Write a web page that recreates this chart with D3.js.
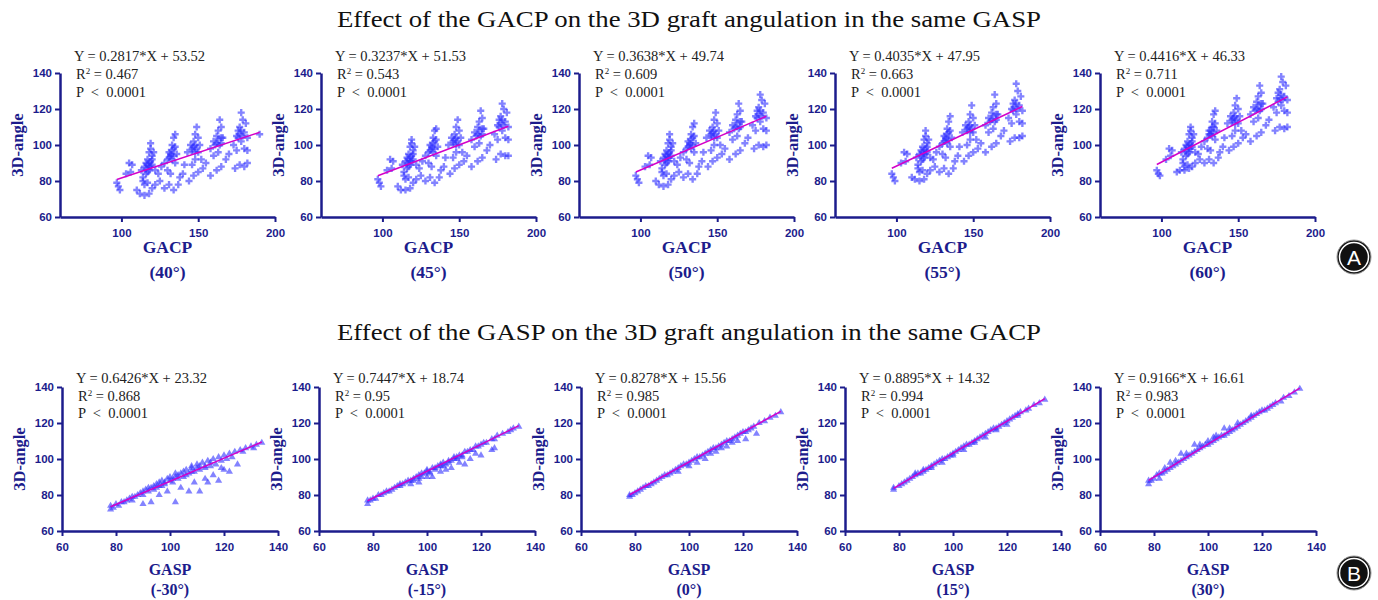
<!DOCTYPE html>
<html>
<head>
<meta charset="utf-8">
<script src="https://cdn.jsdelivr.net/npm/d3@7"></script>
<style>
  body { margin: 0; background: #fff; }
  svg { display: block; }
  .tick text { font-family: "Liberation Sans", Arial, sans-serif; font-weight: bold; font-size: 11.5px; fill: #1c1c8c; }
  .axis path, .axis line { stroke: #1c1c8c; }
  .eq { font-family: "Liberation Serif", "Times New Roman", serif; font-size: 14.5px; fill: #222; white-space: pre; }
  .lab { font-family: "Liberation Serif", "Times New Roman", serif; font-weight: bold; fill: #1c1c8c; }
  .ylab { font-family: "Liberation Serif", "Times New Roman", serif; font-weight: bold; font-size: 16.5px; fill: #1c1c8c; }
  .title { font-family: "Liberation Serif", "Times New Roman", serif; font-size: 23px; fill: #111; }
</style>
</head>
<body>
<div id="chart"></div>
<script>
// ---- data ----
var topTitle = "Effect of the GACP on the 3D graft angulation in the same GASP";
var bottomTitle = "Effect of the GASP on the 3D graft angulation in the same GACP";

var gacpLabels = ["(40°)", "(45°)", "(50°)", "(55°)", "(60°)"];
var gacpSlopes = [0.2817, 0.3237, 0.3638, 0.4035, 0.4416];
var gacpIntercepts = [53.52, 51.53, 49.74, 47.95, 46.33];
var gacpR2 = ["0.467", "0.543", "0.609", "0.663", "0.711"];
var gacpLineX = [[97, 190], [97, 182], [97, 182], [97, 182], [97, 182]];

var gaspLabels = ["(-30°)", "(-15°)", "(0°)", "(15°)", "(30°)"];
var gaspSlopes = [0.6426, 0.7447, 0.8278, 0.8895, 0.9166];
var gaspIntercepts = [23.32, 18.74, 15.56, 14.32, 16.61];
var gaspR2 = ["0.868", "0.95", "0.985", "0.994", "0.983"];
var gaspLineX = [[78, 134], [78, 134], [78, 134], [78, 134], [78, 134]];

var gacp40 = [
  [97,79],[98,77],[99,75],[103,84],[105,90],[106,85],[107,89],
  [110,75],[112,73],[113,86],[114,80],[114,82],[115,88],[115,78],[115,72],[116,90],[116,84],[117,92],[117,79],[118,88],[118,96],[118,73],[119,98],[119,101],[120,89],[120,94],[120,76],[121,96],[122,86],[122,78],[124,84],[125,80],[126,88],
  [116,87],[117,89],[118,90],[119,91],[118,86],[120,92],[117,85],[119,88],
  [128,90],[128,76],[130,92],[130,86],[131,96],[131,78],[132,94],[132,84],[133,100],[134,104],[134,98],[134,75],[135,106],[135,90],[136,95],[137,78],[138,82],[140,84],[141,89],
  [131,93],[132,95],[133,97],[134,94],[133,92],[135,99],
  [143,96],[144,80],[145,100],[146,98],[146,89],[147,102],[147,83],[148,106],[148,92],[149,110],[150,104],[150,96],[150,85],[151,100],[152,92],[153,87],[155,90],
  [146,97],[147,99],[148,100],[149,98],[148,96],
  [158,98],[158,83],[160,102],[160,94],[161,100],[162,105],[162,86],[163,108],[163,96],[164,114],[165,110],[165,101],[165,88],[166,104],[168,92],[170,95],
  [162,101],[163,103],[164,100],[165,104],
  [173,100],[174,87],[175,105],[175,97],[176,108],[177,110],[177,89],[178,118],[178,102],[179,114],[180,107],[180,98],[180,88],[181,112],[182,104],[182,97],[182,90],[190,106],
  [177,106],[178,108],[179,105],[176,104]
];
var gacp45 = [
  [97,81],[98,79],[99,77],[103,86],[105,92],[106,87],[107,91],
  [110,77],[112,75],[113,89],[114,83],[114,85],[115,91],[115,81],[115,75],[116,93],[116,87],[117,95],[117,82],[118,91],[118,99],[118,76],[119,101],[119,103],[120,92],[120,97],[120,79],[121,99],[122,89],[122,81],[124,87],[125,83],[126,91],
  [116,90],[117,92],[118,93],[119,94],[118,89],[120,95],[117,88],[119,91],
  [128,94],[128,80],[130,96],[130,90],[131,100],[131,82],[132,98],[132,88],[133,104],[134,108],[134,102],[134,79],[135,109],[135,94],[136,99],[137,82],[138,86],[140,88],[141,93],
  [131,97],[132,99],[133,101],[134,98],[133,96],[135,103],
  [143,100],[144,84],[145,104],[146,102],[146,93],[147,106],[147,87],[148,110],[148,96],[149,114],[150,108],[150,100],[150,89],[151,104],[152,96],[153,91],[155,94],
  [146,101],[147,103],[148,104],[149,102],[148,100],
  [158,103],[158,88],[160,107],[160,99],[161,105],[162,110],[162,91],[163,113],[163,101],[164,119],[165,115],[165,106],[165,93],[166,109],[168,97],[170,100],
  [162,106],[163,108],[164,105],[165,109],
  [173,106],[174,92],[175,111],[175,103],[176,114],[177,116],[177,95],[178,123],[178,108],[179,120],[180,113],[180,104],[180,94],[181,118],[182,110],[182,103],[182,94],
  [177,112],[178,114],[179,111],[176,110]
];
var gacp50 = [
  [97,83],[98,81],[99,79],[103,88],[105,94],[106,89],[107,93],
  [110,80],[112,78],[113,91],[114,85],[114,87],[115,93],[115,83],[115,77],[116,95],[116,89],[117,97],[117,84],[118,93],[118,101],[118,78],[119,103],[119,106],[120,94],[120,99],[120,81],[121,101],[122,91],[122,83],[124,89],[125,85],[126,93],
  [116,92],[117,94],[118,95],[119,96],[118,91],[120,97],[117,90],[119,93],
  [128,96],[128,82],[130,98],[130,92],[131,102],[131,84],[132,100],[132,90],[133,106],[134,110],[134,104],[134,81],[135,112],[135,96],[136,101],[137,84],[138,88],[140,91],[141,96],
  [131,99],[132,101],[133,103],[134,100],[133,98],[135,105],
  [143,104],[144,88],[145,108],[146,106],[146,97],[147,110],[147,91],[148,114],[148,100],[149,118],[150,112],[150,104],[150,93],[151,108],[152,100],[153,95],[155,98],
  [146,105],[147,107],[148,108],[149,106],[148,104],
  [158,107],[158,92],[160,111],[160,103],[161,109],[162,114],[162,95],[163,117],[163,105],[164,123],[165,119],[165,110],[165,97],[166,113],[168,101],[170,104],
  [162,110],[163,112],[164,109],[165,113],
  [173,111],[174,98],[175,116],[175,108],[176,119],[177,121],[177,100],[178,128],[178,113],[179,125],[180,118],[180,109],[180,99],[181,123],[182,115],[182,108],[182,100],
  [177,117],[178,119],[179,116],[176,115]
];
var gacp55 = [
  [97,84],[98,82],[99,80],[103,90],[105,96],[106,91],[107,95],
  [110,82],[112,81],[113,93],[114,87],[114,89],[115,95],[115,85],[115,80],[116,97],[116,91],[117,99],[117,86],[118,95],[118,103],[118,81],[119,105],[119,108],[120,96],[120,101],[120,84],[121,103],[122,93],[122,86],[124,92],[125,88],[126,96],
  [116,94],[117,96],[118,97],[119,98],[118,93],[120,99],[117,92],[119,95],
  [128,99],[128,85],[130,101],[130,95],[131,105],[131,87],[132,103],[132,93],[133,109],[134,113],[134,107],[134,84],[135,116],[135,99],[136,104],[137,87],[138,91],[140,94],[141,99],
  [131,102],[132,104],[133,106],[134,103],[133,101],[135,108],
  [143,107],[144,91],[145,111],[146,109],[146,100],[147,113],[147,94],[148,117],[148,103],[149,122],[150,115],[150,107],[150,96],[151,111],[152,103],[153,98],[155,101],
  [146,108],[147,110],[148,111],[149,109],[148,107],
  [158,111],[158,96],[160,115],[160,107],[161,113],[162,118],[162,99],[163,121],[163,109],[164,128],[165,123],[165,114],[165,101],[166,117],[168,105],[170,108],
  [162,114],[163,116],[164,113],[165,117],
  [173,115],[174,102],[175,120],[175,112],[176,123],[177,125],[177,104],[178,134],[178,117],[179,130],[180,122],[180,113],[180,104],[181,127],[182,119],[182,112],[182,105],
  [177,121],[178,123],[179,120],[176,119]
];
var gacp60 = [
  [97,86],[98,84],[99,83],[103,92],[105,98],[106,94],[107,97],
  [110,85],[112,86],[113,96],[114,90],[114,92],[115,98],[115,88],[115,86],[116,100],[116,94],[117,102],[117,89],[118,98],[118,106],[118,87],[119,108],[119,110],[120,99],[120,104],[120,88],[121,106],[122,96],[122,90],[124,95],[125,92],[126,99],
  [116,97],[117,99],[118,100],[119,101],[118,96],[120,102],[117,95],[119,98],
  [128,102],[128,90],[130,104],[130,98],[131,108],[131,92],[132,106],[132,97],[133,113],[134,117],[134,110],[134,90],[135,119],[135,103],[136,108],[137,93],[138,96],[140,99],[141,104],
  [131,106],[132,108],[133,110],[134,107],[133,105],[135,112],
  [143,112],[144,97],[145,116],[146,114],[146,105],[147,118],[147,99],[148,122],[148,108],[149,126],[150,120],[150,112],[150,101],[151,116],[152,108],[153,104],[155,106],
  [146,113],[147,115],[148,116],[149,114],[148,112],
  [158,117],[158,102],[160,121],[160,113],[161,119],[162,124],[162,105],[163,127],[163,115],[164,133],[165,129],[165,120],[165,107],[166,123],[168,111],[170,114],
  [162,120],[163,122],[164,119],[165,123],
  [173,121],[174,108],[175,126],[175,118],[176,129],[177,131],[177,110],[178,138],[178,122],[179,135],[180,127],[180,119],[180,109],[181,133],[182,125],[182,118],[182,110],
  [177,126],[178,128],[179,125],[176,124]
];

var gaspM30 = [
  [78,72],[78,74],[79,73],[80,75],[81,74],[82,76],[83,76],[84,77],[85,78],[86,79],[86,77],[87,79],[88,80],[89,81],[90,80],[90,82],[91,83],[92,82],[92,84],[93,84],[94,85],[95,84],[95,86],[96,87],[97,85],[97,88],[98,87],[99,89],[100,88],[100,90],[101,87],[102,90],[102,92],[103,91],[104,92],[105,90],[105,93],[106,94],[107,92],[108,95],[108,96],[109,93],[110,95],[110,97],[111,96],[112,98],[113,96],[114,99],[115,98],[116,100],[117,97],[118,101],[119,99],[120,102],[121,100],[122,103],[123,101],[124,104],[126,105],[127,104],[128,106],[130,107],[131,106],[132,108],[134,109],
  [94,83],[96,85],[98,86],[101,89],[103,89],[106,91],[108,93],[111,94],[113,95],[115,96],
  [90,75],[93,76],[96,80],[99,82],[102,76],[104,84],[107,82],[109,87],[111,82],[113,89],[114,87],[116,91],[118,88],[120,94],[122,93],[125,97],[119,95]
];
var gaspM15 = [
  [78,75],[78,77],[79,77],[80,78],[81,78],[82,80],[83,80],[84,81],[85,82],[86,82],[87,83],[88,84],[89,85],[90,85],[90,86],[91,86],[92,87],[93,88],[94,88],[95,89],[96,90],[97,91],[97,89],[98,92],[99,92],[100,93],[100,94],[101,92],[102,95],[103,95],[104,96],[105,96],[105,97],[106,98],[107,97],[108,99],[109,99],[110,100],[110,101],[111,101],[112,102],[113,102],[114,104],[115,104],[116,105],[117,105],[118,107],[119,107],[120,108],[121,109],[122,109],[124,111],[125,111],[126,113],[128,114],[130,115],[131,116],[132,117],[134,118],
  [95,88],[98,90],[101,93],[103,94],[106,96],[108,98],[111,100],[113,101],
  [94,86],[97,87],[100,90],[102,90],[105,93],[107,94],[109,95],[112,98],[114,97],[116,100],[118,103],[120,102],[124,105],[125,106]
];
var gasp0 = [
  [78,79],[78,80],[79,80],[80,81],[81,82],[82,83],[83,84],[84,85],[85,85],[86,86],[87,87],[88,88],[89,89],[90,90],[91,91],[92,91],[93,92],[94,93],[95,94],[96,95],[97,96],[98,97],[99,97],[100,98],[101,99],[102,100],[103,101],[104,101],[105,102],[106,103],[107,104],[108,105],[109,106],[110,106],[111,107],[112,108],[113,109],[114,110],[115,110],[116,111],[117,112],[118,113],[119,114],[120,115],[121,115],[122,116],[123,117],[124,118],[126,120],[128,121],[130,123],[132,124],[134,126],
  [96,93],[100,96],[103,98],[106,100],[108,103],[110,104],[112,106],[114,107],[116,109],[118,110],[121,111],[125,114]
];
var gasp15 = [
  [78,83],[78,84],[80,85],[81,86],[82,87],[83,88],[84,89],[85,90],[86,91],[87,92],[88,92],[89,93],[90,94],[91,95],[92,96],[93,97],[94,98],[95,99],[96,100],[97,100],[98,101],[99,102],[100,103],[101,104],[102,105],[103,106],[104,107],[105,108],[106,108],[107,109],[108,110],[109,111],[110,112],[111,113],[112,114],[113,115],[114,116],[115,117],[116,117],[117,118],[118,119],[119,120],[120,121],[121,122],[122,123],[123,124],[124,125],[125,126],[127,127],[128,128],[130,130],[132,131],[134,133],
  [86,92],[89,94],[92,95],[96,98],[100,102],[104,105],[108,109],[112,112],[116,116],[120,119],[124,124]
];
var gasp30 = [
  [78,86],[78,88],[79,88],[80,89],[81,91],[82,89],[82,92],[83,92],[84,93],[85,94],[86,95],[86,98],[87,96],[88,97],[89,98],[90,99],[90,103],[91,100],[92,101],[93,102],[94,103],[95,104],[95,108],[96,105],[97,106],[98,107],[99,108],[100,108],[100,110],[101,109],[102,110],[103,111],[103,113],[104,112],[105,113],[106,113],[106,117],[107,114],[108,115],[109,116],[110,117],[111,118],[112,119],[113,120],[114,121],[115,122],[116,123],[117,124],[118,125],[119,126],[120,127],[121,127],[122,128],[123,129],[124,130],[125,131],[127,132],[128,134],[130,135],[132,137],[134,139],
  [84,95],[88,99],[92,103],[97,108],[102,112],[108,117],[111,120],[116,124]
];

var gacpData = [gacp40, gacp45, gacp50, gacp55, gacp60];
var gaspData = [gaspM30, gaspM15, gasp0, gasp15, gasp30];

var yTicks = [60, 80, 100, 120, 140];

// ---- layout ----
var width = 1378, height = 600;

var rows = [
  {
    title: topTitle, titleY: 27, xName: "GACP", labels: gacpLabels, data: gacpData,
    slopes: gacpSlopes, intercepts: gacpIntercepts, r2: gacpR2, lineX: gacpLineX,
    lefts: [60, 321, 579, 835, 1100], top: 73, bottom: 217, pw: 215,
    xDomain: [60, 200], xTicks: [100, 150, 200],
    eqY: [61, 79, 97], labY: [253, 278], labSize: 17.5, symbol: d3.symbolCross, symSize: 28,
    badge: "A", badgeY: 257
  },
  {
    title: bottomTitle, titleY: 340, xName: "GASP", labels: gaspLabels, data: gaspData,
    slopes: gaspSlopes, intercepts: gaspIntercepts, r2: gaspR2, lineX: gaspLineX,
    lefts: [62, 319, 581, 845, 1100], top: 387, bottom: 531, pw: 216,
    xDomain: [60, 140], xTicks: [60, 80, 100, 120, 140],
    eqY: [383, 401, 418], labY: [575, 595], labSize: 16, symbol: d3.symbolTriangle, symSize: 22,
    badge: "B", badgeY: 573
  }
];

var svg = d3.select("#chart").append("svg")
  .attr("width", width)
  .attr("height", height);

rows.forEach(function (row) {
  svg.append("text")
    .attr("class", "title")
    .attr("x", 689)
    .attr("y", row.titleY)
    .attr("text-anchor", "middle")
    .attr("textLength", 704)
    .attr("lengthAdjust", "spacingAndGlyphs")
    .text(row.title);

  row.data.forEach(function (pts, i) {
    var left = row.lefts[i];
    var x = d3.scaleLinear().domain(row.xDomain).range([left, left + row.pw]);
    var y = d3.scaleLinear().domain([60, 140]).range([row.bottom, row.top]);
    var g = svg.append("g");

    // points
    var sym = d3.symbol().type(row.symbol).size(row.symSize);
    g.append("g")
      .selectAll("path")
      .data(pts)
      .enter()
      .append("path")
      .attr("d", sym)
      .attr("transform", (d) => "translate(" + x(d[0]) + "," + y(d[1]) + ")")
      .attr("fill", "#3030ff")
      .attr("fill-opacity", 0.6);

    // regression line
    var lx = row.lineX[i];
    var fit = (v) => row.slopes[i] * v + row.intercepts[i];
    g.append("line")
      .attr("x1", x(lx[0])).attr("y1", y(fit(lx[0])))
      .attr("x2", x(lx[1])).attr("y2", y(fit(lx[1])))
      .attr("stroke", "#d400c8")
      .attr("stroke-width", 1.5);

    // axes
    var yAxis = d3.axisLeft(y).tickValues(yTicks).tickSize(5).tickPadding(3).tickSizeOuter(0);
    var xAxis = d3.axisBottom(x).tickValues(row.xTicks).tickSize(5).tickPadding(7).tickSizeOuter(0);
    g.append("g")
      .attr("class", "axis")
      .attr("transform", "translate(" + left + ",0)")
      .call(yAxis)
      .call((a) => a.select(".domain").attr("stroke-width", 2.5))
      .call((a) => a.selectAll(".tick line").attr("stroke-width", 2));
    g.append("g")
      .attr("class", "axis")
      .attr("transform", "translate(0," + row.bottom + ")")
      .call(xAxis)
      .call((a) => a.select(".domain").attr("stroke-width", 2.5))
      .call((a) => a.selectAll(".tick line").attr("stroke-width", 2));

    // equation text
    var tx = left + 14;
    g.append("text").attr("class", "eq").attr("x", tx).attr("y", row.eqY[0])
      .text("Y = " + row.slopes[i].toFixed(4) + "*X + " + row.intercepts[i].toFixed(2));
    var r = g.append("text").attr("class", "eq").attr("x", tx + 2).attr("y", row.eqY[1]);
    r.append("tspan").text("R");
    r.append("tspan").attr("dy", -5).attr("font-size", "9px").text("2");
    r.append("tspan").attr("dy", 5).text(" = " + row.r2[i]);
    g.append("text").attr("class", "eq").attr("x", tx + 2).attr("y", row.eqY[2])
      .text("P  <  0.0001");

    // axis titles
    var cx = left + row.pw / 2;
    g.append("text").attr("class", "lab").attr("x", cx).attr("y", row.labY[0])
      .attr("font-size", row.labSize + "px")
      .attr("text-anchor", "middle").text(row.xName);
    g.append("text").attr("class", "lab").attr("x", cx).attr("y", row.labY[1])
      .attr("font-size", row.labSize + "px")
      .attr("text-anchor", "middle").text(row.labels[i]);
    g.append("text").attr("class", "ylab")
      .attr("transform", "translate(" + (left - 37) + "," + (row.top + row.bottom) / 2 + ") rotate(-90)")
      .attr("text-anchor", "middle").text("3D-angle");
  });

  // panel badge
  var b = svg.append("g").attr("transform", "translate(1354," + row.badgeY + ")");
  b.append("circle").attr("r", 17).attr("fill", "#111").attr("stroke", "#999").attr("stroke-width", 1);
  b.append("circle").attr("r", 14.5).attr("fill", "none").attr("stroke", "#fff").attr("stroke-width", 1.5);
  b.append("text")
    .attr("text-anchor", "middle")
    .attr("y", 7.5)
    .attr("fill", "#fff")
    .attr("font-family", "Liberation Sans, Arial, sans-serif")
    .attr("font-size", "21px")
    .text(row.badge);
});
</script>
</body>
</html>
